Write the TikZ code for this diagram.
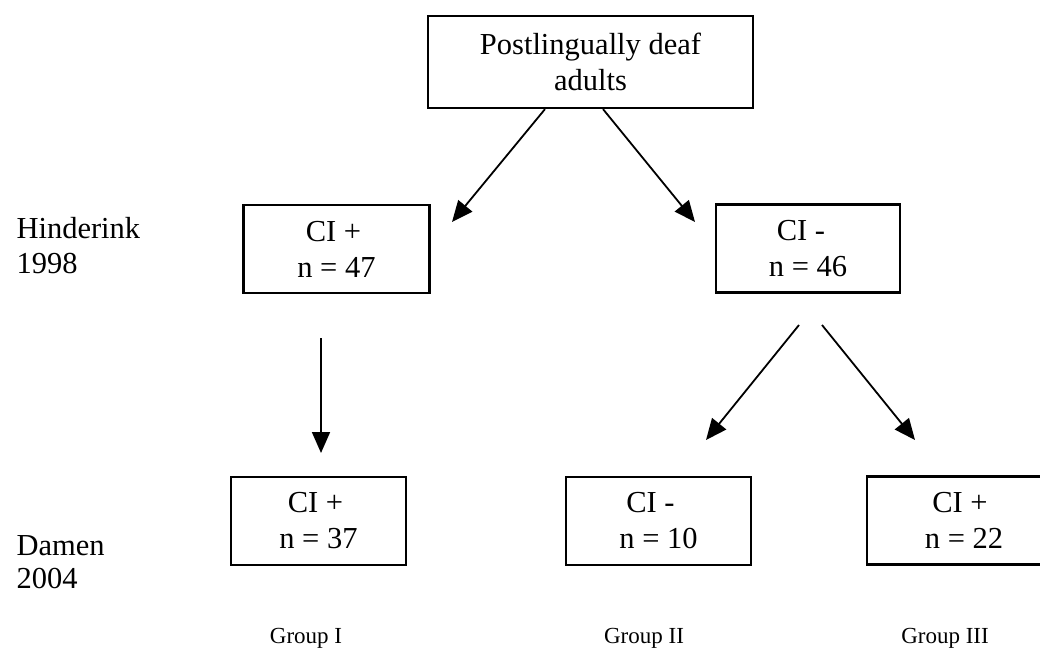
\documentclass[tikz,border=0pt]{standalone}
\usepackage{fontspec}
\setmainfont{Liberation Serif}
\usetikzlibrary{arrows.meta,positioning}

\newcommand{\padr}[1]{\rule{#1}{0pt}}

\tikzset{
  box/.style={draw, line width=2.2pt, align=center, inner sep=0pt,
    minimum width=186pt, minimum height=88pt,
    font=\fontsize{30.5}{36}\selectfont},
  arr/.style={line width=1.8pt, -{Triangle[length=21pt,width=18pt]}},
  side/.style={anchor=base west, font=\fontsize{30.5}{36}\selectfont},
  grp/.style={anchor=base, font=\fontsize{23}{26}\selectfont}
}

\begin{document}
\begin{tikzpicture}[x=1pt,y=-1pt]
    \useasboundingbox (0,0) rectangle (1040,648);

    % Boxes
    \node[box, minimum width=325pt, minimum height=92pt] (deaf) at (590.5,62) {Postlingually deaf\\adults};
    \node[box] (pos98) at (336.5,249) {CI +\padr{6pt}\\n = 47};
    \node[box, minimum width=184pt] (neg98) at (808,248.5) {CI -\padr{14pt}\\n = 46};
    \node[box, minimum width=175pt] (grpI) at (318.5,521) {CI +\padr{6pt}\\n = 37};
    \node[box, minimum width=185pt] (grpII) at (658.5,521) {CI -\padr{16pt}\\n = 10};
    \node[box, minimum width=194pt] (grpIII) at (964,520.5) {CI +\padr{8pt}\\n = 22};

    % Year labels
    \node[side] (hind) at (13,238) {Hinderink};
    \node[side] (hindy) at (13,273) {1998};
    \node[side] (dam) at (13,555) {Damen};
    \node[side] (damy) at (13,588) {2004};

    % Group labels
    \node[grp] (lblI) at (306,643) {Group I};
    \node[grp] (lblII) at (644,643) {Group II};
    \node[grp] (lblIII) at (945,643) {Group III};

    % Arrow ends
    \coordinate (tipA) at (452,222);
    \coordinate (tipB) at (695,222);
    \coordinate (startC) at (321,338);
    \coordinate (tipC) at (321,453);
    \coordinate (startD) at (799,325);
    \coordinate (tipD) at (706,440);
    \coordinate (startE) at (822,325);
    \coordinate (tipE) at (915,440);

    % Arrows
    \draw[arr] ([xshift=-45.5pt]deaf.south) -- (tipA);
    \draw[arr] ([xshift=12.5pt]deaf.south) -- (tipB);
    \draw[arr] (startC) -- (tipC);
    \draw[arr] (startD) -- (tipD);
    \draw[arr] (startE) -- (tipE);
\end{tikzpicture}
\end{document}
